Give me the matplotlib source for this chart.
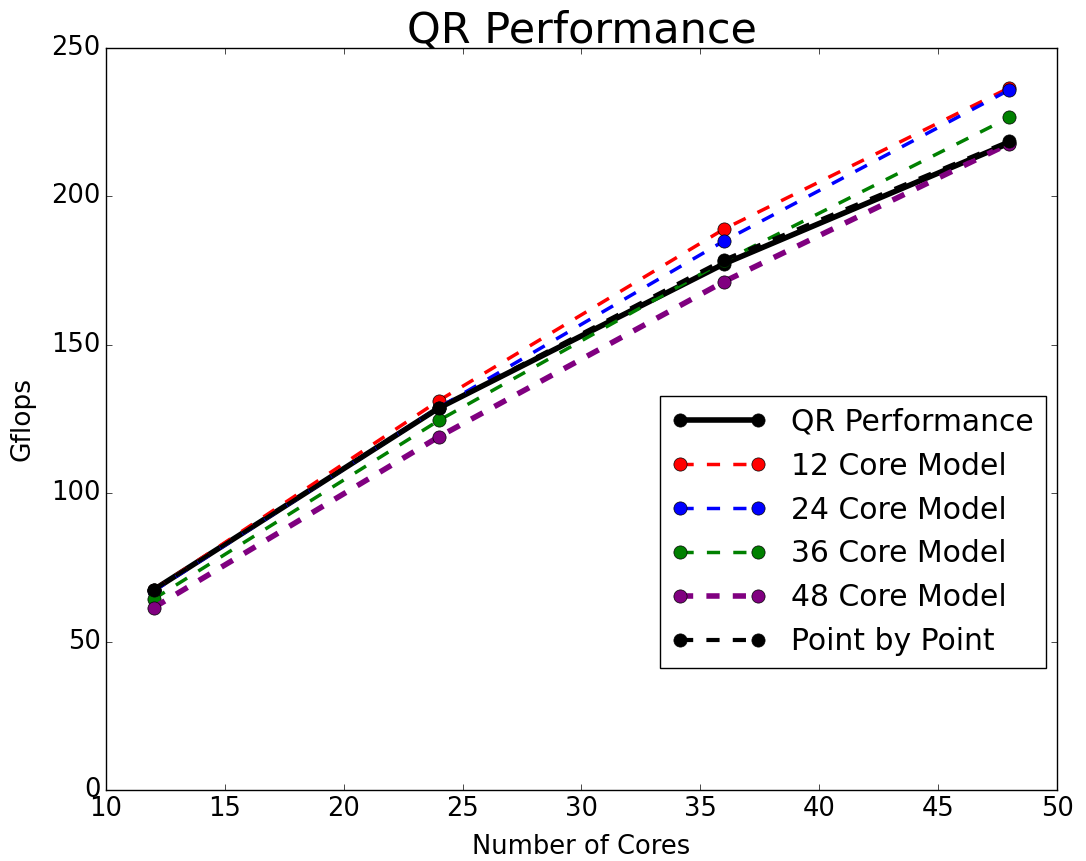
import matplotlib; matplotlib.use("Agg")
import matplotlib.pyplot as plt

plt.style.use("classic")

cores = [12, 24, 36, 48]
qr_perf = [67.4, 128.7, 177.3, 218.0]
model_12 = [67.4, 131.2, 189.0, 236.6]
model_24 = [67.0, 128.8, 185.0, 235.9]
model_36 = [64.3, 124.5, 178.2, 226.6]
model_48 = [61.4, 119.0, 171.3, 217.8]
point_by_point = [67.4, 128.7, 178.6, 218.6]

fig = plt.figure(figsize=(10.86, 8.61), dpi=100, facecolor="white")
ax = fig.add_axes([0.0976, 0.0825, 0.8757, 0.8618])

ms = 9.5
dash = (9.5, 9.5)
ax.plot(cores, qr_perf, "k-", lw=4, marker="o", ms=ms, label="QR Performance")
ax.plot(cores, model_12, "--", color="red", lw=2.5, dashes=dash, marker="o", ms=ms, label="12 Core Model")
ax.plot(cores, model_24, "--", color="blue", lw=2.5, dashes=dash, marker="o", ms=ms, label="24 Core Model")
ax.plot(cores, model_36, "--", color="green", lw=2.5, dashes=dash, marker="o", ms=ms, label="36 Core Model")
ax.plot(cores, model_48, "--", color="purple", lw=4, dashes=dash, marker="o", ms=ms, label="48 Core Model")
ax.plot(cores, point_by_point, "k--", lw=3, dashes=dash, marker="o", ms=ms, label="Point by Point")

ax.set_xlim(10, 50); ax.set_ylim(0, 250)
ax.tick_params(labelsize=18.5)
ax.set_title("QR Performance", fontsize=31, pad=4)
ax.set_xlabel("Number of Cores", fontsize=18.5, labelpad=9)
ax.set_ylabel("Gflops", fontsize=19, labelpad=11)
ax.legend(loc="lower right", bbox_to_anchor=(0.988, 0.164), borderaxespad=0,
          fontsize=21.5, handlelength=3.2, numpoints=2)

fig.savefig("out.png", dpi=100, facecolor="white")
